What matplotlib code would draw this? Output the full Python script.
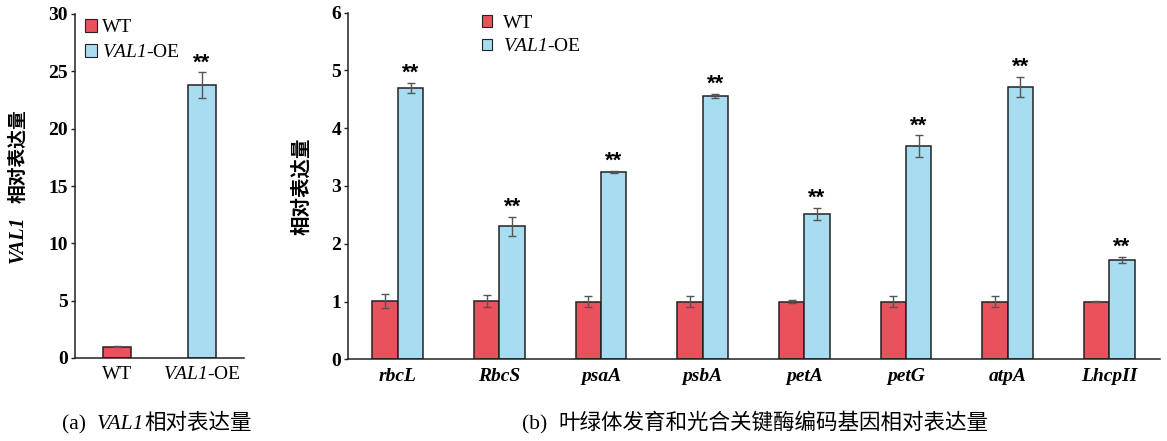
import matplotlib
matplotlib.use("Agg")
import matplotlib.pyplot as plt
import numpy as np
from matplotlib.offsetbox import TextArea, HPacker, AnnotationBbox

# math segments are only used for italic gene symbols inside labels
plt.rcParams["mathtext.fontset"] = "custom"
plt.rcParams["mathtext.rm"] = "Liberation Serif:italic"
plt.rcParams["mathtext.it"] = "Liberation Serif:italic"
plt.rcParams["mathtext.bf"] = "Liberation Serif:bold"

# ---- data -------------------------------------------------------------
lines_a = ["WT", r"$\mathit{VAL1}$-OE"]
val1_mean = [1.0, 23.8]
val1_err = [0.08, 1.15]
val1_sig = ["", "**"]

genes = ["rbcL", "RbcS", "psaA", "psbA", "petA", "petG", "atpA", "LhcpII"]
wt_mean = [1.01, 1.01, 1.00, 1.00, 1.00, 1.00, 1.00, 1.00]
wt_err = [0.12, 0.11, 0.10, 0.10, 0.02, 0.09, 0.10, 0.01]
oe_mean = [4.70, 2.30, 3.245, 4.555, 2.515, 3.685, 4.715, 1.725]
oe_err = [0.09, 0.17, 0.02, 0.04, 0.11, 0.19, 0.17, 0.05]
oe_sig = ["**"] * 8

legend_labels = ["WT", r"$\mathit{VAL1}$-OE"]

# ---- style ------------------------------------------------------------
RED = "#E9525C"
BLUE = "#A8DCF0"
ERR = "#555555"
SERIF = "Liberation Serif"
CJK = "Noto Sans CJK SC"

W, H = 1167, 441
fig = plt.figure(figsize=(W / 100, H / 100), dpi=100)


def px_axes(x0, x1, ytop, ybot):
    return fig.add_axes([x0 / W, 1 - ybot / H, (x1 - x0) / W, (ybot - ytop) / H])


def style_axes(ax):
    for s in ("top", "right"):
        ax.spines[s].set_visible(False)
    for s in ("left", "bottom"):
        ax.spines[s].set_linewidth(1.1)
        ax.spines[s].set_color("#222222")
    ax.tick_params(axis="y", direction="out", length=3, width=1, pad=2,
                   colors="#222222")
    ax.tick_params(axis="x", length=0)
    for lab in ax.get_yticklabels():
        lab.set_fontfamily(SERIF)
        lab.set_fontweight("bold")
        lab.set_fontsize(14)
        lab.set_color("black")


def stars(ax, x, top, text, lift=3.0):
    ax.annotate(text, xy=(x, top), xytext=(0, lift), textcoords="offset points",
                ha="center", va="baseline", fontsize=16, fontweight="bold",
                family="Liberation Sans")


# ---- panel (a) --------------------------------------------------------
ax1 = px_axes(75, 244, 14, 358)
xa = np.arange(len(lines_a))
cols_a = [RED, BLUE]
ax1.bar(xa, val1_mean, width=0.33, color=cols_a, edgecolor="#222222",
        linewidth=1.1, zorder=2)
ax1.errorbar(xa, val1_mean, yerr=val1_err, fmt="none", ecolor=ERR,
             elinewidth=1, capsize=2.6, capthick=1, zorder=3)
for x, m, e, s in zip(xa, val1_mean, val1_err, val1_sig):
    if s:
        stars(ax1, x, m + e, s, lift=2.0)
ax1.set_xlim(-0.5, 1.5)
ax1.set_ylim(0, 30)
ax1.set_yticks(np.arange(0, 31, 5))
ax1.set_xticks(xa)
ax1.set_xticklabels(lines_a, fontfamily=SERIF, fontsize=14)
ax1.tick_params(axis="x", pad=6)
style_axes(ax1)
ha_ = [plt.Rectangle((0, 0), 1, 1, facecolor=c, edgecolor="#222222", linewidth=0.8)
       for c in cols_a]
ax1.legend(ha_, legend_labels, loc="upper left",
           bbox_to_anchor=(85 / W, 1 - 19 / H), bbox_transform=fig.transFigure,
           frameon=False, borderpad=0, borderaxespad=0, handlelength=0.62,
           handleheight=0.62, handletextpad=0.25, labelspacing=0.42,
           prop={"family": SERIF, "size": 14})

# y label of panel (a): italic gene symbol + Chinese text
fig.text(18 / W, 1 - 263 / H, "VAL1", rotation=90, ha="center", va="bottom",
         family=SERIF, style="italic", weight="bold", fontsize=14.5)
fig.text(18 / W, 1 - 203 / H, "相对表达量", rotation=90, ha="center",
         va="bottom", family=CJK, weight="bold", fontsize=13.5)

# ---- panel (b) --------------------------------------------------------
ax2 = px_axes(348, 1160, 12.7, 359.3)
xb = np.arange(len(genes))
bw = 0.25
ax2.bar(xb - bw / 2, wt_mean, width=bw, color=RED, edgecolor="#222222",
        linewidth=1.1, zorder=2, label=legend_labels[0])
ax2.bar(xb + bw / 2, oe_mean, width=bw, color=BLUE, edgecolor="#222222",
        linewidth=1.1, zorder=2, label=legend_labels[1])
ax2.errorbar(xb - bw / 2, wt_mean, yerr=wt_err, fmt="none", ecolor=ERR,
             elinewidth=1, capsize=2.6, capthick=1, zorder=3)
ax2.errorbar(xb + bw / 2, oe_mean, yerr=oe_err, fmt="none", ecolor=ERR,
             elinewidth=1, capsize=2.6, capthick=1, zorder=3)
for x, m, e, s in zip(xb + bw / 2, oe_mean, oe_err, oe_sig):
    stars(ax2, x, m + e, s)
ax2.set_xlim(-0.49, 7.5)
ax2.set_ylim(0, 6)
ax2.set_yticks(np.arange(0, 7, 1))
ax2.set_xticks(xb)
ax2.set_xticklabels(genes, fontfamily=SERIF, fontstyle="italic",
                    fontweight="bold", fontsize=14)
ax2.tick_params(axis="x", pad=6)
style_axes(ax2)
hb = [plt.Rectangle((0, 0), 1, 1, facecolor=c, edgecolor="#222222", linewidth=0.8)
      for c in cols_a]
ax2.legend(hb, legend_labels, loc="upper left",
           bbox_to_anchor=(482 / W, 1 - 15 / H), bbox_transform=fig.transFigure,
           frameon=False, borderpad=0, borderaxespad=0, handlelength=0.52,
           handleheight=0.52, handletextpad=0.55, labelspacing=0.32,
           prop={"family": SERIF, "size": 14})

fig.text(302 / W, 1 - 186 / H, "相对表达量", rotation=90, ha="center",
         va="center", family=CJK, weight="bold", fontsize=14)


# ---- captions ---------------------------------------------------------
def caption(parts, xc, yc):
    boxes = [TextArea(t, textprops=p) for t, p in parts]
    pack = HPacker(children=boxes, align="baseline", pad=0, sep=0)
    ab = AnnotationBbox(pack, (xc / W, 1 - yc / H), xycoords="figure fraction",
                        frameon=False, box_alignment=(0.5, 0.5), pad=0)
    fig.add_artist(ab)


serif_p = {"family": SERIF, "size": 15.5}
ital_p = {"family": SERIF, "size": 15.5, "style": "italic"}
cjk_p = {"family": CJK, "size": 15.5}
caption([("(a)  ", serif_p), ("VAL1", ital_p), ("相对表达量", cjk_p)], 157, 423)
caption([("(b)  ", serif_p), ("叶绿体发育和光合关键酶编码基因相对表达量", cjk_p)],
        755, 423)

fig.savefig("out.png", dpi=100)
